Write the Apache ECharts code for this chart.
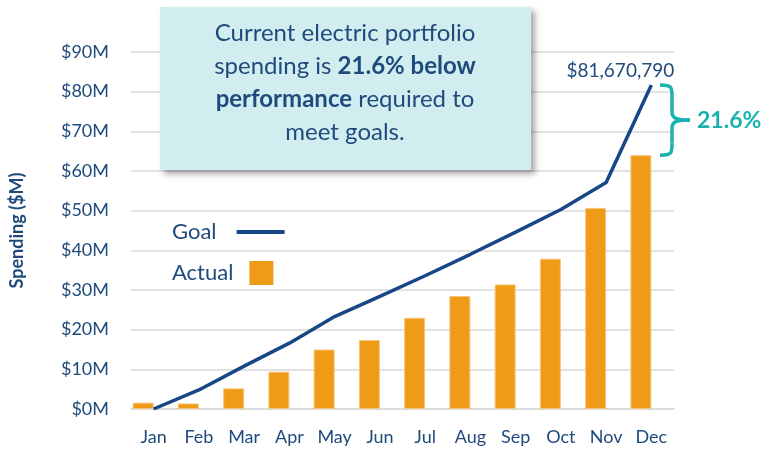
<!DOCTYPE html>
<html><head><meta charset="utf-8">
<script src="https://cdn.jsdelivr.net/npm/echarts@6/dist/echarts.min.js"></script>
<style>html,body{margin:0;padding:0;background:#fff}#c{width:765px;height:450px}</style>
</head><body><div id="c"></div>
<script>
const months = ['Jan','Feb','Mar','Apr','May','Jun','Jul','Aug','Sep','Oct','Nov','Dec'];
const goal = [0, 4.8, 10.8, 16.6, 23.3, 28.4, 33.6, 39.0, 44.6, 50.3, 57.1, 81.67];
const actual = [1.6, 1.4, 5.2, 9.4, 15.0, 17.4, 23.0, 28.5, 31.4, 37.9, 50.7, 64.0];
const goalEndLabel = '$81,670,790';
const gapLabel = '21.6%';
const boxText = 'Current electric portfolio\nspending is {b|21.6% below}\n{b|performance} required to\nmeet goals.';

const FONT = 'Lato';
const BLUE_TXT = '#1F4A7C';
const BLUE_LINE = '#184786';
const ORANGE = '#EF9B17';
const TEAL = '#1AB2AF';

const chart = echarts.init(document.getElementById('c'), null, {renderer:'canvas'});
const goalData = goal.map((v,i)=> i===goal.length-1 ? {value:v, label:{show:true, formatter:goalEndLabel, position:'top', distance:5, offset:[-31,0], color:BLUE_TXT, fontSize:19, fontFamily:FONT}} : v);

chart.setOption({
  animation:false,
  textStyle:{fontFamily:FONT},
  grid:{left:131, right:91, top:52, bottom:41, containLabel:false},
  xAxis:{type:'category', data:months, boundaryGap:true,
    axisLine:{show:true, lineStyle:{color:'#D9D9D9', width:1.5}}, axisTick:{show:false},
    axisLabel:{color:BLUE_TXT, fontSize:18, margin:19, fontFamily:FONT}},
  yAxis:{type:'value', min:0, max:90, interval:10,
    name:'Spending ($M)', nameLocation:'middle', nameGap:105, nameRotate:90,
    nameTextStyle:{color:BLUE_TXT, fontSize:18, fontWeight:'bold', fontFamily:FONT},
    axisLabel:{color:BLUE_TXT, fontSize:18, margin:22, formatter:v=>'$'+v+'M', fontFamily:FONT},
    splitLine:{lineStyle:{color:'#D9D9D9', width:1.5}}, axisLine:{show:false}, axisTick:{show:false}},
  legend:[
    {data:['Goal'], left:167, top:216, align:'right', icon:'rect', itemWidth:48, itemHeight:4, selectedMode:false,
     itemStyle:{borderWidth:0},
     textStyle:{color:BLUE_TXT, fontSize:22, fontFamily:FONT, padding:[0,15,0,0]}},
    {data:['Actual'], left:167, top:256, align:'right', icon:'rect', itemWidth:24, itemHeight:24, selectedMode:false,
     itemStyle:{borderWidth:0},
     textStyle:{color:BLUE_TXT, fontSize:22, fontFamily:FONT, padding:[0,11,0,0]}}
  ],
  series:[
    {name:'Actual', type:'bar', data:actual, barWidth:21, barGap:'0%', itemStyle:{color:ORANGE, borderColor:'#F6C67E', borderWidth:1}},
    {name:'pad', type:'bar', data:months.map(()=>null), barWidth:21, itemStyle:{color:'transparent'}},
    {name:'Goal', type:'line', data:goalData, symbol:'circle', symbolSize:0, showSymbol:true, lineStyle:{color:BLUE_LINE, width:3.5}, itemStyle:{color:BLUE_LINE}, z:5}
  ]
});

const pTop = chart.convertToPixel({gridIndex:0}, ['Dec', goal[11]]);
const pBot = chart.convertToPixel({gridIndex:0}, ['Dec', actual[11]]);
const yT = pTop[1], yB = pBot[1], ym = (yT+yB)/2;
const x0 = 660, x1 = 672, x2 = 690;
const braceStyle = {fill:'none', stroke:TEAL, lineWidth:3.5};

chart.setOption({
  graphic:[
    {type:'rect', shape:{x:160, y:7, width:371, height:163}, style:{fill:'#D2EDF0', shadowBlur:6, shadowOffsetX:4, shadowOffsetY:4, shadowColor:'rgba(0,0,0,0.35)'}, z:10},
    {type:'text', x:345, y:83, z:11, style:{text:boxText, fill:BLUE_TXT, fontSize:24, fontFamily:FONT, align:'center', verticalAlign:'middle', lineHeight:33,
      rich:{b:{fontWeight:'bold', fill:BLUE_TXT, fontSize:24, fontFamily:FONT, lineHeight:33}}}},
    {type:'bezierCurve', z:10, shape:{x1:x0, y1:yT, cpx1:x1, cpy1:yT, cpx2:x1, cpy2:yT+2, x2:x1, y2:yT+12}, style:braceStyle},
    {type:'line', z:10, shape:{x1:x1, y1:yT+12, x2:x1, y2:ym-8}, style:braceStyle},
    {type:'bezierCurve', z:10, shape:{x1:x1, y1:ym-8, cpx1:x1, cpy1:ym-1, cpx2:x1+6, cpy2:ym, x2:x2, y2:ym}, style:braceStyle},
    {type:'bezierCurve', z:10, shape:{x1:x2, y1:ym, cpx1:x1+6, cpy1:ym, cpx2:x1, cpy2:ym+1, x2:x1, y2:ym+8}, style:braceStyle},
    {type:'line', z:10, shape:{x1:x1, y1:ym+8, x2:x1, y2:yB-12}, style:braceStyle},
    {type:'bezierCurve', z:10, shape:{x1:x1, y1:yB-12, cpx1:x1, cpy1:yB-2, cpx2:x1, cpy2:yB, x2:x0, y2:yB}, style:braceStyle},
    {type:'text', x:697, y:ym, z:10, style:{text:gapLabel, fill:TEAL, fontSize:23, fontWeight:'bold', fontFamily:FONT, verticalAlign:'middle'}}
  ]
});
</script></body></html>
